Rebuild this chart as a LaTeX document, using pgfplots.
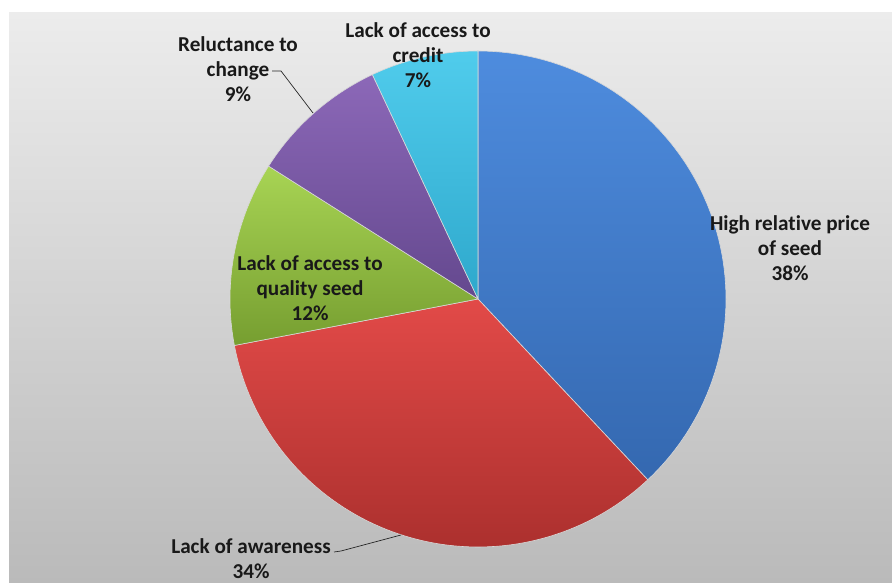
\documentclass[border=0pt]{standalone}
\usepackage{pgfplots}
\pgfplotsset{compat=1.18}
\usepackage{fontspec}
\setmainfont{Carlito}[Ligatures={NoCommon}]
\definecolor{bgtop}{RGB}{236,236,236}
\definecolor{bgbot}{RGB}{186,186,186}
\definecolor{blueA}{RGB}{78,140,222}
\definecolor{blueB}{RGB}{52,104,176}
\definecolor{redA}{RGB}{226,74,72}
\definecolor{redB}{RGB}{172,48,46}
\definecolor{greenA}{RGB}{168,212,84}
\definecolor{greenB}{RGB}{118,158,48}
\definecolor{purpA}{RGB}{140,104,184}
\definecolor{purpB}{RGB}{100,72,142}
\definecolor{cyanA}{RGB}{80,204,236}
\definecolor{cyanB}{RGB}{46,168,204}
\tikzset{lbl/.style={font=\fontsize{21.2bp}{25bp}\selectfont\bfseries, align=center, text=black!90, inner sep=0pt}}
\begin{document}
\begin{tikzpicture}
\begin{axis}[
  width=892bp, height=583bp, scale only axis,
  xmin=0, xmax=892, ymin=0, ymax=583,
  hide axis, clip=false,
]
\fill[white] (axis cs:0,0) rectangle (axis cs:892,583);
\shade[top color=bgtop, bottom color=bgbot] (axis cs:9,0) rectangle (axis cs:892,570);
% slices: percentages 38, 34, 12, 9, 7 -> angles clockwise from top
\addplot[draw=white!70!gray, line width=0.6pt, top color=blueA, bottom color=blueB, domain=-46.8:90, samples=80]
  ({478+248*cos(x)},{284+248*sin(x)}) -- (axis cs:478,284) -- cycle;
\addplot[draw=white!70!gray, line width=0.6pt, top color=redA, bottom color=redB, domain=-169.2:-46.8, samples=80]
  ({478+248*cos(x)},{284+248*sin(x)}) -- (axis cs:478,284) -- cycle;
\addplot[draw=white!70!gray, line width=0.6pt, top color=greenA, bottom color=greenB, domain=147.6:190.8, samples=40]
  ({478+248*cos(x)},{284+248*sin(x)}) -- (axis cs:478,284) -- cycle;
\addplot[draw=white!70!gray, line width=0.6pt, top color=purpA, bottom color=purpB, domain=115.2:147.6, samples=40]
  ({478+248*cos(x)},{284+248*sin(x)}) -- (axis cs:478,284) -- cycle;
\addplot[draw=white!70!gray, line width=0.6pt, top color=cyanA, bottom color=cyanB, domain=90:115.2, samples=30]
  ({478+248*cos(x)},{284+248*sin(x)}) -- (axis cs:478,284) -- cycle;
% leader lines
\addplot[black!85, line width=0.7pt] coordinates {(272,512) (281,512) (313,470)};
\addplot[black!85, line width=0.7pt] coordinates {(334,31) (341,32) (401,48)};
% labels
\node[lbl] at (axis cs:790,335) {High rela\kern0pt tive price\\of seed\\38\%};
\node[lbl] at (axis cs:251,24) {Lack of awareness\\34\%};
\node[lbl] at (axis cs:310,295) {Lack of access to\\quality seed\\12\%};
\node[lbl] at (axis cs:238,514) {Reluctance to\\change\\9\%};
\node[lbl] at (axis cs:418,528) {Lack of access to\\credit\\7\%};
\end{axis}
\pgfresetboundingbox
\path[use as bounding box] (current axis.south west) rectangle (current axis.north east);
\end{tikzpicture}
\end{document}
